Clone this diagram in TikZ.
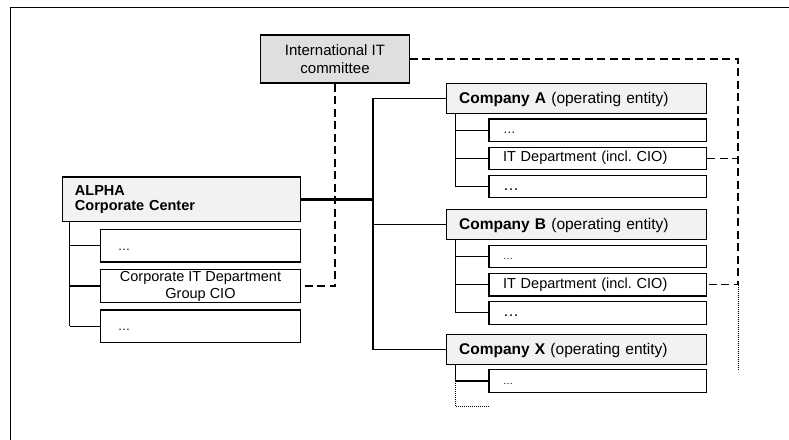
\documentclass[tikz,border=0pt]{standalone}
\usepackage{fontspec}
\setmainfont{Liberation Sans}
\usetikzlibrary{positioning}

\tikzset{
  unitbox/.style={rectangle, draw, fill=gray!10, inner xsep=12.5bp, inner ysep=0pt, align=left},
  companybox/.style={unitbox, text width=235bp, minimum height=30bp, text height=11bp, text depth=1bp, font=\fontsize{15.5bp}{17bp}\selectfont},
  subbox/.style={rectangle, draw, fill=white, inner xsep=14bp, inner ysep=0pt, text width=189.7bp, minimum height=22.5bp, text height=10bp, text depth=3bp, align=left, font=\fontsize{14.5bp}{16bp}\selectfont},
  corpsub/.style={subbox, text width=165.3bp, inner xsep=17bp, minimum height=32.5bp, text height=12bp},
  ciobox/.style={rectangle, draw, fill=white, inner sep=0pt, minimum width=199.3bp, minimum height=32.5bp, align=center, font=\fontsize{14.5bp}{16.7bp}\selectfont},
  boardbox/.style={rectangle, draw, fill=gray!25, minimum width=148.6bp, minimum height=48bp, align=center, font=\fontsize{15bp}{17.5bp}\selectfont},
  cioline/.style={dash pattern=on 8bp off 4.5bp},
  moreline/.style={line width=1bp, dash pattern=on 1bp off 1bp}
}
\frenchspacing

\begin{document}
\begin{tikzpicture}[x=1bp, y=-1bp, line width=1.2bp]
    \useasboundingbox (0,0) rectangle (789,440);
    \draw (10.7,440) |- (789,7.5);

    \node[boardbox] (committee) at (335,59) {International IT\\committee};
    \node[unitbox, text width=212.7bp, minimum height=44.7bp, font=\bfseries\fontsize{14.5bp}{15bp}\selectfont] (alpha) at (181.3,199.3) {ALPHA\\Corporate Center};
    \node[corpsub, below=6.6bp of alpha.south east, anchor=north east] (c1) {{\fontsize{12.5bp}{14bp}\selectfont\dots}};
    \node[ciobox, below=6.7bp of c1] (c2) {Corporate IT Department\\Group CIO};
    \node[corpsub, below=6.5bp of c2] (c3) {{\fontsize{12.5bp}{14bp}\selectfont\dots}};

    \node[companybox] (compA) at (576.7,98.3) {\textbf{Company A} (operating entity)};
    \node[subbox, below=4.5bp of compA.south east, anchor=north east] (a1) {{\fontsize{12.5bp}{14bp}\selectfont\dots}};
    \node[subbox, below=4.5bp of a1] (a2) {IT Department (incl. CIO)};
    \node[subbox, below=4.5bp of a2] (a3) {{\fontsize{16bp}{17bp}\selectfont\dots}};

    \node[companybox, below=95bp of compA] (compB) {\textbf{Company B} (operating entity)};
    \node[subbox, below=4.5bp of compB.south east, anchor=north east] (b1) {{\fontsize{10bp}{11bp}\selectfont\dots}};
    \node[subbox, below=4.5bp of b1] (b2) {IT Department (incl. CIO)};
    \node[subbox, below=4.5bp of b2] (b3) {{\fontsize{16bp}{17bp}\selectfont\dots}};

    \node[companybox, below=93.4bp of compB] (compX) {\textbf{Company X} (operating entity)};
    \node[subbox, below=4.5bp of compX.south east, anchor=north east] (x1) {{\fontsize{10bp}{11bp}\selectfont\dots}};

    % tree
    \coordinate (trunk) at (373,0);
    \coordinate (cio) at (738,0);
    \draw[line width=2.6bp] (alpha.east) -- (alpha.east -| trunk);
    \draw (compA.west) -- (compA.west -| trunk) -- (compX.west -| trunk) -- (compX.west);
    \draw (compB.west) -- (compB.west -| trunk);
    \foreach \u/\s/\n/\d in {alpha/c/3/8bp, compA/a/3/9.3bp, compB/b/3/9.3bp, compX/x/1/9.3bp} {
        \coordinate (\s-spine) at ([xshift=\d]\u.south west);
        \draw (\s-spine) -- (\s-spine |- \s\n.west);
        \foreach \k in {1,...,\n}
            \draw (\s-spine |- \s\k.west) -- (\s\k.west);
    }
    \coordinate (xmore) at ([yshift=-25.6bp]x1.west);
    \draw[moreline] (x-spine |- x1.west) |- (xmore);

    % IT links
    \coordinate (cioend) at (738,370);
    \draw[cioline] (committee.south) |- (c2.east);
    \draw[cioline] (committee.east) -| (b2.east -| cio) -- (b2.east);
    \draw[cioline] (a2.east) -- (a2.east -| cio);
    \draw[moreline] (b2.east -| cio) -- (cioend);
\end{tikzpicture}
\end{document}
